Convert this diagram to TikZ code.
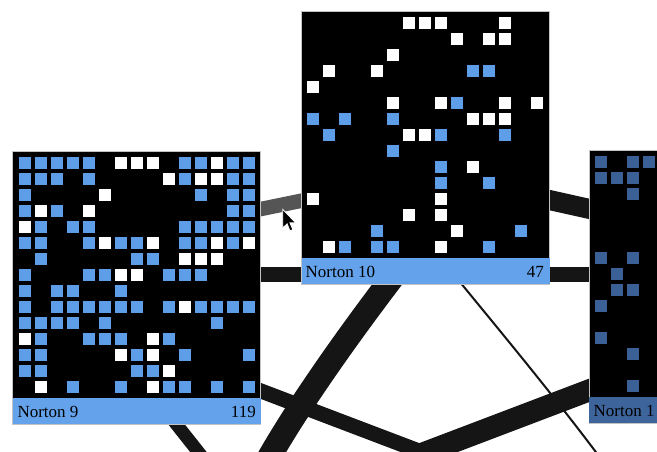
\documentclass[tikz,border=0pt]{standalone}
\usepackage{fontspec}
\setmainfont{Liberation Serif}
\definecolor{cellblue}{RGB}{94,158,232}
\definecolor{barblue}{RGB}{100,163,235}
\definecolor{celldark}{RGB}{58,96,150}
\definecolor{bardark}{RGB}{62,100,156}
\definecolor{linkblack}{RGB}{21,21,21}
\definecolor{linkgray}{RGB}{85,85,85}
\definecolor{panelborder}{RGB}{195,195,195}
\tikzset{
  panel/.style={draw=panelborder, line width=1pt, fill=black, minimum width=248pt, minimum height=273pt, inner sep=0pt, outer sep=0pt, anchor=north west},
  labelbar/.style={fill=#1, minimum width=248pt, minimum height=26.5pt, inner sep=0pt, outer sep=0pt, anchor=south west},
  labeltext/.style={font=\fontsize{17}{17}\selectfont, text=black, inner sep=0pt},
  link/.style={draw=linkblack, line cap=butt},
  cb/.style={fill=cellblue},
  cw/.style={fill=white},
  cd/.style={fill=celldark},
}
\newcommand\cellsrow[3]{\foreach \c in {#3}{\fill[#2] ({5.8+16*\c},{5.8+16*#1}) rectangle ++(12,12);}}
\begin{document}
\begin{tikzpicture}[x=1pt,y=-1pt]
\useasboundingbox (0,0) rectangle (657,451);
\clip (0,0) rectangle (657,451);
% link end points
\coordinate (g1) at (240,213.3); \coordinate (g2) at (320,196.9);
\coordinate (h1) at (200,274); \coordinate (h2) at (640,274);
\coordinate (r1) at (530,195.7); \coordinate (r2) at (610,213.5);
\coordinate (c1) at (392,278); \coordinate (c4) at (262,470);
\coordinate (t1) at (455,276); \coordinate (t4) at (610,471);
\coordinate (v1) at (230,379.2); \coordinate (v2) at (440,459);
\coordinate (w1) at (620,378.6); \coordinate (w2) at (405,460.3);
\coordinate (b1) at (155,397.2); \coordinate (b2) at (215,473);
% links
\draw[link, line width=15pt] (h1) -- (h2);
\draw[link, draw=linkgray, line width=14.5pt] (g1) -- (g2);
\draw[link, line width=20pt] (r1) -- (r2);
\draw[link, line width=24pt] (c1) .. controls (346.4,338) and (295,410) .. (c4);
\draw[link, line width=2pt] (t1) .. controls (500,331) and (560,403) .. (t4);
\draw[link, line width=15pt] (v1) -- (v2);
\draw[link, line width=22pt] (w1) -- (w2);
\draw[link, line width=13pt] (b1) -- (b2);
% Norton 9
\node[panel] (n9) at (12.8,151) {};
\node[labelbar=barblue] (n9bar) at (n9.south west) {};
\begin{scope}[shift={(12.8,151)}]
\cellsrow{0}{cb}{0,1,2,3,4,10,11,13,14}\cellsrow{0}{cw}{6,7,8,12}
\cellsrow{1}{cb}{0,1,2,4,10,13,14}\cellsrow{1}{cw}{9,11,12}
\cellsrow{2}{cb}{0,11,13,14}\cellsrow{2}{cw}{5}
\cellsrow{3}{cb}{0,2,13,14}\cellsrow{3}{cw}{1,4}
\cellsrow{4}{cb}{1,3,4,10,11,12,13,14}\cellsrow{4}{cw}{0}
\cellsrow{5}{cb}{0,1,4,6,7,10,11,13}\cellsrow{5}{cw}{5,8,12,14}
\cellsrow{6}{cb}{1,7,8}\cellsrow{6}{cw}{10,11,12}
\cellsrow{7}{cb}{0,4,5,9,10,11}\cellsrow{7}{cw}{6,7}
\cellsrow{8}{cb}{0,2,3,6}
\cellsrow{9}{cb}{0,2,3,4,5,6,7,9,11,12,13,14}\cellsrow{9}{cw}{10}
\cellsrow{10}{cb}{0,1,2,3,5,12}
\cellsrow{11}{cb}{1,4,5,6,9}\cellsrow{11}{cw}{0,8}
\cellsrow{12}{cb}{0,1,7,10,14}\cellsrow{12}{cw}{6,8}
\cellsrow{13}{cb}{0,1,7,8}\cellsrow{13}{cw}{9}
\cellsrow{14}{cb}{3,6,9,10,12,14}\cellsrow{14}{cw}{1,8}
\end{scope}
\node[labeltext, anchor=base west] (n9name) at (17.3,417.3) {Norton 9};
\node[labeltext, anchor=base east] (n9val) at (256,417.3) {119};
% Norton 10
\node[panel] (n10) at (301.5,11) {};
\node[labelbar=barblue] (n10bar) at (n10.south west) {};
\begin{scope}[shift={(301.5,11)}]
\cellsrow{0}{cw}{6,7,8,12}
\cellsrow{1}{cw}{9,11,12}
\cellsrow{2}{cw}{5}
\cellsrow{3}{cw}{1,4}\cellsrow{3}{cb}{10,11}
\cellsrow{4}{cw}{0}
\cellsrow{5}{cw}{5,8,12,14}\cellsrow{5}{cb}{9}
\cellsrow{6}{cb}{0,2,5}\cellsrow{6}{cw}{10,11,12}
\cellsrow{7}{cb}{1,8,12}\cellsrow{7}{cw}{6,7}
\cellsrow{8}{cb}{5}
\cellsrow{9}{cb}{8}\cellsrow{9}{cw}{10}
\cellsrow{10}{cb}{8,11}
\cellsrow{11}{cw}{0,8}
\cellsrow{12}{cw}{6,8}
\cellsrow{13}{cb}{4,13}\cellsrow{13}{cw}{9}
\cellsrow{14}{cb}{2,4,5,11}\cellsrow{14}{cw}{1,8}
\end{scope}
\node[labeltext, anchor=base west] (n10name) at (305.5,277.7) {Norton 10};
\node[labeltext, anchor=base east] (n10val) at (544,277.7) {47};
% Norton 1x (right, cut off)
\node[panel] (n11) at (589.3,150) {};
\node[labelbar=bardark] (n11bar) at (n11.south west) {};
\begin{scope}[shift={(589.3,150)}]
\cellsrow{0}{cd}{0,2,3}
\cellsrow{1}{cd}{0,1,2}
\cellsrow{2}{cd}{2}
\cellsrow{6}{cd}{0,2}
\cellsrow{7}{cd}{1}
\cellsrow{8}{cd}{1,2}
\cellsrow{9}{cd}{0}
\cellsrow{11}{cd}{0}
\cellsrow{12}{cd}{2}
\cellsrow{14}{cd}{2}
\end{scope}
\node[labeltext, anchor=base west] (n11name) at (593.5,416.8) {Norton 1};
% mouse pointer
\draw[fill=black, draw=white, line width=0.8pt, line join=miter, shift={(282.7,209.3)}, scale=1.1]
  (0,0) -- (0,17) -- (4,13.2) -- (6.6,19.6) -- (9.2,18.5) -- (6.6,12.3) -- (11.8,12.3) -- cycle;
\end{tikzpicture}
\end{document}
